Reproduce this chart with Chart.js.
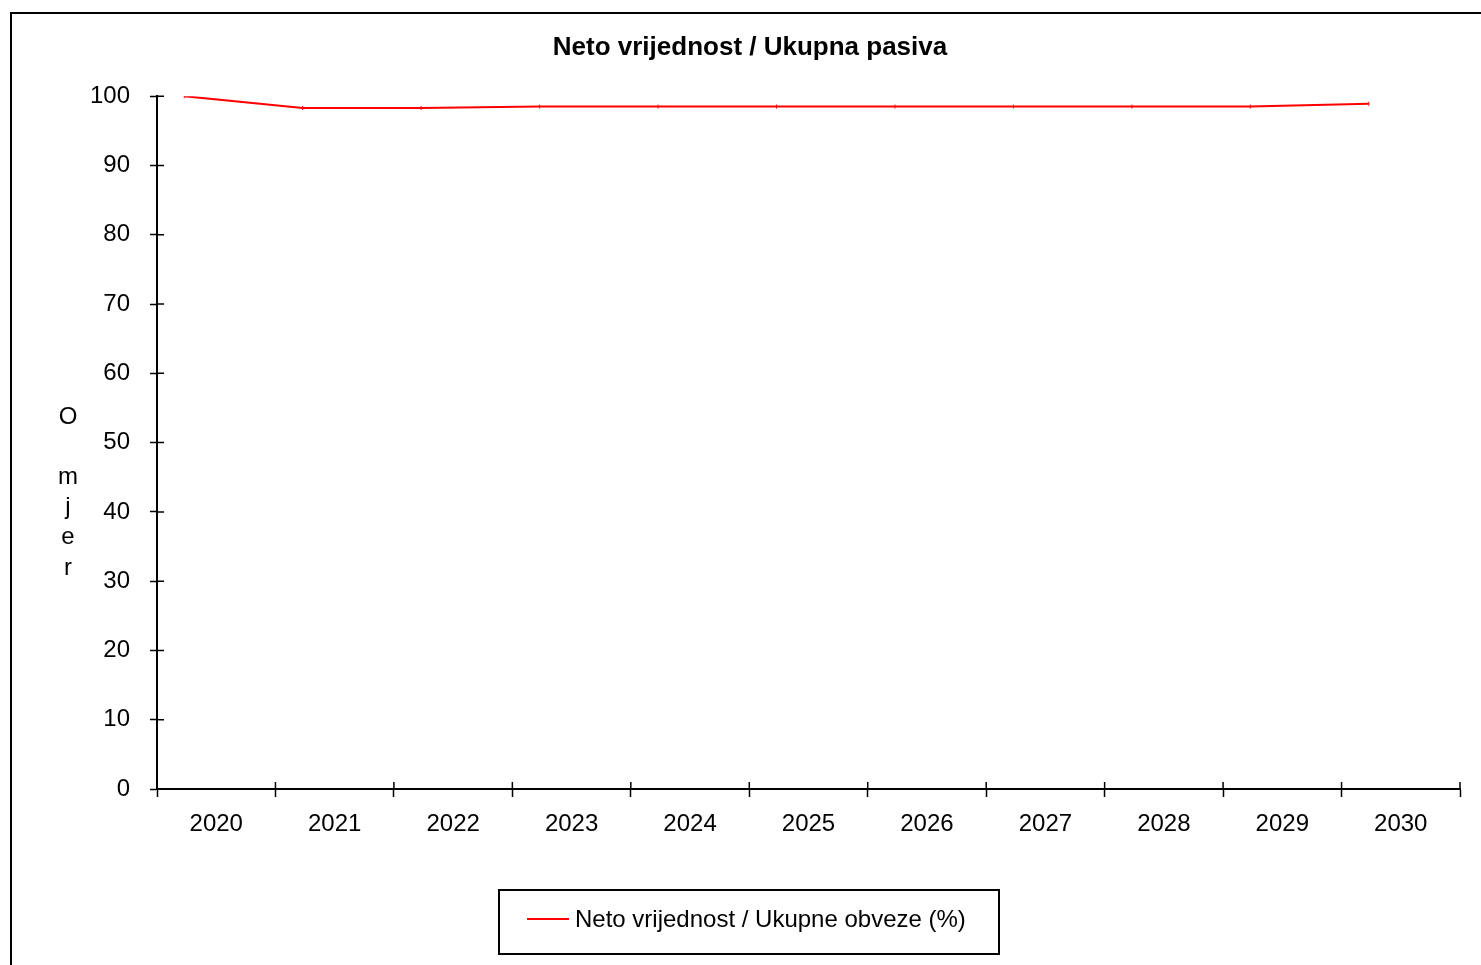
<!DOCTYPE html>
<html lang="hr">
<head>
    <meta charset="UTF-8">
    <title>Neto vrijednost / Ukupna pasiva</title>
    <script src="https://cdn.jsdelivr.net/npm/chart.js"></script>
    <style>
        html, body {
            margin: 0;
            padding: 0;
            overflow: hidden;
            background: #fff;
            font-family: "Liberation Sans", Arial, sans-serif;
        }
        #frame {
            position: absolute;
            left: 10px;
            top: 12px;
            width: 1500px;
            height: 1000px;
            border: 2px solid #000;
        }
        #wrap {
            position: absolute;
            left: 0;
            top: 0;
            width: 1500px;
            height: 965px;
        }
        #legend {
            position: absolute;
            left: 498px;
            top: 889px;
            width: 498px;
            height: 56px;
            padding-bottom: 6px;
            border: 2px solid #000;
            display: flex;
            align-items: center;
            font-size: 24px;
            color: #000;
        }
        #legend .swatch {
            display: inline-block;
            width: 42px;
            height: 2px;
            background: #ff0000;
            margin-left: 27px;
            margin-right: 6px;
        }
    </style>
</head>
<body>
    <div id="frame"></div>
    <div id="wrap"><canvas id="ratioChart"></canvas></div>
    <div id="legend"></div>

    <script>
        // podaci
        const years = ['2020', '2021', '2022', '2023', '2024', '2025', '2026', '2027', '2028', '2029', '2030'];
        const yearNums = [2020, 2021, 2022, 2023, 2024, 2025, 2026, 2027, 2028, 2029, 2030];
        const ratio = [100, 98.3, 98.3, 98.5, 98.5, 98.5, 98.5, 98.5, 98.5, 98.5, 98.9];
        const yTicks = [0, 10, 20, 30, 40, 50, 60, 70, 80, 90, 100];
        const seriesLabel = 'Neto vrijednost / Ukupne obveze (%)';
        const chartTitle = 'Neto vrijednost / Ukupna pasiva';
        const yTitle = ['O', ' ', 'm', 'j', 'e', 'r'];

        const FONT = '"Liberation Sans", Arial, sans-serif';

        // ticks that cross the axis line (inner half) + stacked y title
        const innerTicks = {
            id: 'innerTicks',
            afterDraw(chart) {
                const ctx = chart.ctx;
                const xs = chart.scales.x;
                const ys = chart.scales.y;
                ctx.save();
                ctx.strokeStyle = '#000';
                ctx.lineWidth = 1.5;
                ctx.beginPath();
                yTicks.forEach(v => {
                    const py = ys.getPixelForValue(v);
                    ctx.moveTo(ys.right, py);
                    ctx.lineTo(ys.right + 7, py);
                });
                for (let i = 0; i <= years.length; i++) {
                    const px = xs.getPixelForValue(i - 0.5);
                    ctx.moveTo(px, xs.top);
                    ctx.lineTo(px, xs.top - 7);
                }
                ctx.stroke();

                ctx.fillStyle = '#000';
                ctx.font = '24px ' + FONT;
                ctx.textAlign = 'center';
                ctx.textBaseline = 'middle';
                yTitle.forEach((ch, i) => {
                    ctx.fillText(ch, 68, 417 + i * 30.2);
                });
                ctx.restore();
            }
        };

        const ctx = document.getElementById('ratioChart').getContext('2d');
        const ratioChart = new Chart(ctx, {
            type: 'line',
            data: {
                labels: years,
                datasets: [{
                    label: seriesLabel,
                    data: yearNums.map((y, i) => ({ x: y, y: ratio[i] })),
                    xAxisID: 'xv',
                    borderColor: '#ff0000',
                    backgroundColor: '#ff0000',
                    borderWidth: 2,
                    pointStyle: 'line',
                    rotation: 90,
                    pointRadius: 2,
                    pointBorderWidth: 1,
                    tension: 0
                }]
            },
            options: {
                responsive: true,
                maintainAspectRatio: false,
                animation: false,
                layout: {
                    padding: { left: 40, right: 40, top: 20, bottom: 0 }
                },
                plugins: {
                    legend: { display: false },
                    tooltip: { enabled: false },
                    title: {
                        display: true,
                        text: chartTitle,
                        color: '#000',
                        font: { family: FONT, size: 26, weight: 'bold' },
                        padding: { top: 12, bottom: 33 }
                    }
                },
                scales: {
                    x: {
                        type: 'category',
                        offset: true,
                        grid: {
                            offset: true,
                            drawOnChartArea: false,
                            tickLength: 8,
                            tickWidth: 1.5,
                            color: '#000'
                        },
                        border: { color: '#000', width: 2 },
                        ticks: {
                            color: '#000',
                            padding: 13,
                            maxRotation: 0,
                            font: { family: FONT, size: 24 }
                        },
                        afterFit(scale) { scale.height = 176; }
                    },
                    xv: {
                        type: 'linear',
                        display: false,
                        min: 2019.77,
                        max: 2030.77
                    },
                    y: {
                        min: 0,
                        max: 100,
                        afterBuildTicks(scale) {
                            scale.ticks = yTicks.map(v => ({ value: v }));
                        },
                        grid: {
                            drawOnChartArea: false,
                            tickLength: 7,
                            tickWidth: 1.5,
                            color: '#000'
                        },
                        border: { color: '#000', width: 2 },
                        ticks: {
                            color: '#000',
                            padding: 20,
                            font: { family: FONT, size: 24 }
                        },
                        afterFit(scale) { scale.width = 117; }
                    }
                }
            },
            plugins: [innerTicks]
        });

        // legend box built from the dataset
        const legend = document.getElementById('legend');
        ratioChart.data.datasets.forEach(ds => {
            legend.innerHTML = '<span class="swatch"></span><span>' + ds.label + '</span>';
        });
    </script>
</body>
</html>
